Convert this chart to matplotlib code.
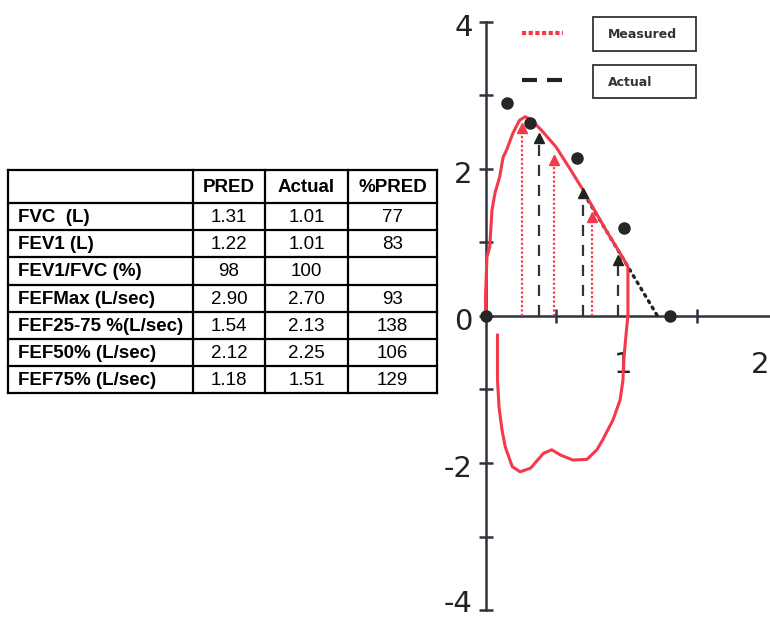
import matplotlib
matplotlib.use("Agg")
import matplotlib.pyplot as plt
from matplotlib.patches import Rectangle

# ── spirometry summary table ────────────────────────────────────────────────
COL_HEADERS = ["PRED", "Actual", "%PRED"]
ROW_LABELS = ["FVC  (L)", "FEV1 (L)", "FEV1/FVC (%)", "FEFMax (L/sec)",
              "FEF25-75 %(L/sec)", "FEF50% (L/sec)", "FEF75% (L/sec)"]
PRED = ["1.31", "1.22", "98", "2.90", "1.54", "2.12", "1.18"]
ACTUAL = ["1.01", "1.01", "100", "2.70", "2.13", "2.25", "1.51"]
PCT_PRED = ["77", "83", "", "93", "138", "106", "129"]

# ── flow-volume loop (volume L, flow L/sec) ─────────────────────────────────
EXP_VOL = [0.0, 0.0, 0.01, 0.03, 0.046, 0.067, 0.10, 0.125, 0.15, 0.195,
           0.24, 0.28, 0.32, 0.40, 0.50, 0.60, 0.69, 0.77, 0.86, 0.95,
           1.01, 1.01]
EXP_FLOW = [0.0, 0.26, 0.80, 0.94, 1.44, 1.67, 1.89, 2.16, 2.26, 2.49,
            2.66, 2.71, 2.68, 2.52, 2.30, 2.00, 1.72, 1.45, 1.15, 0.87,
            0.67, 0.0]
INSP_VOL = [1.01, 1.0, 0.98, 0.975, 0.955, 0.905, 0.83, 0.79, 0.72, 0.62,
            0.53, 0.47, 0.41, 0.32, 0.245, 0.19, 0.14, 0.117, 0.096, 0.085,
            0.085]
INSP_FLOW = [0.0, -0.19, -0.60, -0.87, -1.14, -1.41, -1.69, -1.82, -1.95,
             -1.96, -1.89, -1.82, -1.87, -2.07, -2.12, -2.05, -1.78, -1.55,
             -1.24, -0.87, -0.26]

# predicted points (circles) and marked flows (triangles)
PRED_VOL = [0.0, 0.152, 0.316, 0.649, 0.982, 1.309]
PRED_FLOW = [0.0, 2.90, 2.63, 2.15, 1.20, 0.0]
MEAS_VOL = [0.259, 0.486, 0.755]
MEAS_FLOW = [2.56, 2.12, 1.35]
ACT_VOL = [0.379, 0.69, 0.94]
ACT_FLOW = [2.42, 1.67, 0.76]
SLOPE_VOL = [0.70, 1.22]
SLOPE_FLOW = [1.66, 0.0]

Y_TICKS = [-4, -2, 0, 2, 4]
Y_MINOR = [-3, -1, 1, 3]
X_LABELS = [(0.975, "1"), (2.0, "2")]
X_MINOR = [0.5, 1.5]

RED = "#f23a4a"
DARK = "#2e333d"

fig = plt.figure(figsize=(7.7, 6.2), dpi=100)
fig.patch.set_facecolor("white")

# table drawn in pixel coordinates
tax = fig.add_axes([0, 0, 1, 1])
tax.set_xlim(0, 770)
tax.set_ylim(620, 0)
tax.axis("off")

col_edges = [8, 193, 265, 348, 437]
row_edges = [170, 203, 230, 257, 285, 312, 339, 366, 393]
for x in col_edges:
    tax.plot([x, x], [row_edges[0], row_edges[-1]], color="black", lw=1.6,
             solid_capstyle="projecting")
for y in row_edges:
    tax.plot([col_edges[0], col_edges[-1]], [y, y], color="black", lw=1.6,
             solid_capstyle="projecting")

font = dict(family="Liberation Sans", fontsize=13.5)
for j, head in enumerate(COL_HEADERS):
    cx = (col_edges[j + 1] + col_edges[j + 2]) / 2
    tax.text(cx, (row_edges[0] + row_edges[1]) / 2 + 1, head, ha="center",
             va="center", weight="bold", **font)
for i, label in enumerate(ROW_LABELS):
    cy = (row_edges[i + 1] + row_edges[i + 2]) / 2 + 1
    tax.text(18, cy, label, ha="left", va="center", weight="bold", **font)
    for j, vals in enumerate([PRED, ACTUAL, PCT_PRED]):
        cx = (col_edges[j + 1] + col_edges[j + 2]) / 2
        tax.text(cx, cy, vals[i], ha="center", va="center", **font)

# flow-volume plot
ax = fig.add_axes([440 / 770, 0, 330 / 770, 1])
ax.patch.set_alpha(0)
ax.set_xlim(-0.3227, 2.0177)
ax.set_ylim(-4.136, 4.299)

for side in ["top", "right"]:
    ax.spines[side].set_visible(False)
ax.spines["left"].set_position(("data", 0))
ax.spines["bottom"].set_position(("data", 0))
ax.spines["left"].set_bounds(-4, 4)
ax.spines["bottom"].set_bounds(0, 2.02)
for side in ["left", "bottom"]:
    ax.spines[side].set_color(DARK)
    ax.spines[side].set_linewidth(1.8)

ax.set_yticks(Y_TICKS)
ax.set_yticks(Y_MINOR, minor=True)
ax.set_yticklabels([])
ax.set_xticks([])
ax.set_xticks(X_MINOR, minor=True)
ax.tick_params(axis="both", which="both", direction="inout", length=10,
               width=1.8, color=DARK)

num_font = dict(fontsize=21, family="DejaVu Sans", color="#222222")
for v in Y_TICKS:
    yv = v - 0.08 if v > -4 else v + 0.08
    ax.text(-0.09, yv, str(v), ha="right", va="center", **num_font)
for v, s in X_LABELS:
    ha = "center" if v < 2 else "right"
    ax.text(v if v < 2 else 2.012, -0.67, s, ha=ha, va="center", **num_font)

# marker drop lines
for v, f in zip(MEAS_VOL, MEAS_FLOW):
    ax.plot([v, v], [0, f], color=RED, lw=1.6, ls=(0, (1, 1)), zorder=3)
for v, f in zip(ACT_VOL, ACT_FLOW):
    ax.plot([v, v], [0, f], color="#333333", lw=1.6, ls=(0, (5, 4)), zorder=3)

ax.plot(SLOPE_VOL, SLOPE_FLOW, color="#222222", lw=2.4, ls=(0, (0.6, 1.6)),
        dash_capstyle="round", zorder=4)

ax.plot(EXP_VOL, EXP_FLOW, color=RED, lw=2.2, zorder=5)
ax.plot(INSP_VOL, INSP_FLOW, color=RED, lw=2.2, zorder=5)

ax.plot(MEAS_VOL, MEAS_FLOW, ls="none", marker="^", ms=6.5, color=RED,
        zorder=6)
ax.plot(ACT_VOL, ACT_FLOW, ls="none", marker="^", ms=6.5, color="#222222",
        zorder=6)
ax.plot(PRED_VOL, PRED_FLOW, ls="none", marker="o", ms=8, color="#262626",
        zorder=7, clip_on=False)

# legend samples and labelled boxes
ax.plot([0.259, 0.55], [3.85, 3.85], color=RED, lw=3.0, ls=(0, (1, 0.6)),
        clip_on=False)
ax.plot([0.259, 0.55], [3.21, 3.21], color="#222222", lw=3.0,
        ls=(0, (3.6, 2.4)), clip_on=False)
for (y0, y1), name in [((3.605, 4.068), "Measured"), ((2.966, 3.415), "Actual")]:
    ax.add_patch(Rectangle((0.762, y0), 1.493 - 0.762, y1 - y0, fill=False,
                           edgecolor="#333333", lw=1.3, clip_on=False))
    ax.text(0.87, (y0 + y1) / 2 - 0.01, name, ha="left", va="center",
            fontsize=9, weight="bold", family="DejaVu Sans", color="#333333")

fig.savefig("out.png", dpi=100, facecolor="white")
